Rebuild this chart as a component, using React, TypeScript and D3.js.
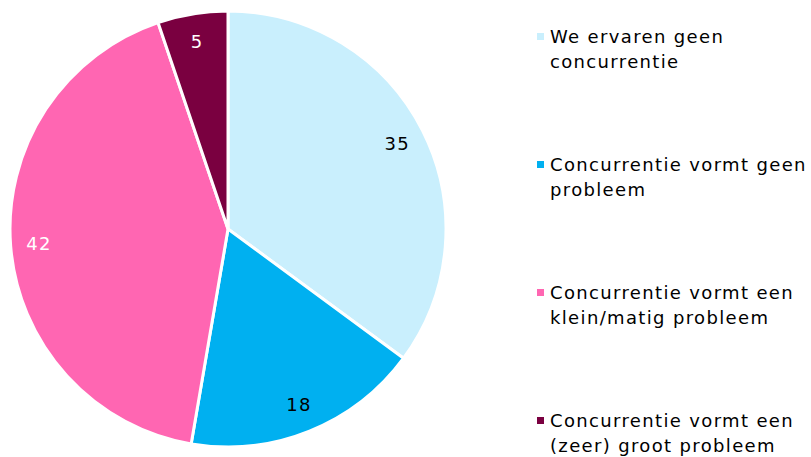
import React from "react";
import * as d3 from "d3";

const categories = [
  "We ervaren geen concurrentie",
  "Concurrentie vormt geen probleem",
  "Concurrentie vormt een klein/matig probleem",
  "Concurrentie vormt een (zeer) groot probleem",
];
const values = [35.1, 17.6, 42.1, 5.2];
const colors = ["#C9EFFD", "#00B0F0", "#FF66B2", "#7A0040"];
const labelColors = ["#000000", "#000000", "#FFFFFF", "#FFFFFF"];
const legendLines = [
  ["We ervaren geen", "concurrentie"],
  ["Concurrentie vormt geen", "probleem"],
  ["Concurrentie vormt een", "klein/matig probleem"],
  ["Concurrentie vormt een", "(zeer) groot probleem"],
];

export default function App() {
  const W = 811, H = 457;
  const cx = 228, cy = 229, R = 218;
  const pie = d3.pie<number>().sort(null).value((d) => d);
  const arcs = pie(values);
  const arc = d3.arc<d3.PieArcDatum<number>>().innerRadius(0).outerRadius(R);
  const labelArc = d3.arc<d3.PieArcDatum<number>>().innerRadius(R * 0.87).outerRadius(R * 0.87);
  const font = "'DejaVu Sans', Verdana, sans-serif";
  const legendY = d3.scalePoint<number>().domain(d3.range(categories.length)).range([37, 421]);
  return (
    <svg width={W} height={H} style={{ position: "absolute", left: 0, top: 0 }} fontFamily={font}>
      <g transform={`translate(${cx},${cy})`}>
        {arcs.map((a, i) => (
          <path key={i} d={arc(a) || ""} fill={colors[i]} stroke="#fff" strokeWidth={3} strokeLinejoin="round" />
        ))}
        {arcs.map((a, i) => {
          const [x, y] = labelArc.centroid(a);
          return (
            <text key={i} x={x} y={y} dy="0.35em" textAnchor="middle" fontSize={18} letterSpacing={1.2} fill={labelColors[i]}>
              {Math.round(values[i])}
            </text>
          );
        })}
      </g>
      {categories.map((c, i) => {
        const y0 = legendY(i) as number;
        return (
          <g key={c}>
            <rect x={537} y={y0 - 4} width={7} height={7} fill={colors[i]} />
            {legendLines[i].map((l, j) => (
              <text key={j} x={550} y={y0 + j * 25} dy="0.35em" fontSize={18} letterSpacing={1.35} fill="#000">
                {l}
              </text>
            ))}
          </g>
        );
      })}
    </svg>
  );
}
